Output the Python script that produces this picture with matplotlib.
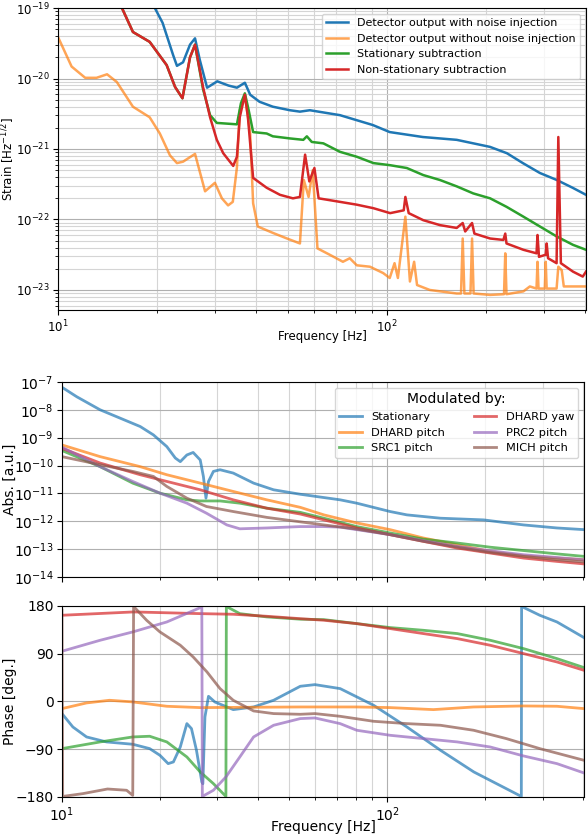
import numpy as np
import matplotlib
matplotlib.use("Agg")
import matplotlib.pyplot as plt
from matplotlib.ticker import LogLocator, NullFormatter, FixedLocator

# ---------------- Top panel: strain spectra (values as log10 of strain) ----------------
blue_f = [18.5, 19.7, 20.8, 22.4, 23.0, 24.0, 25.2, 26.1, 27.0, 28.4, 30.5, 33.0, 35.0, 37.0, 38.4,
          41.0, 45.0, 50.7, 54.4, 58.3, 72.0, 90.6, 102, 128.6, 163, 205.8, 231.7, 259, 291.7,
          328.6, 367, 403]
blue_log = [-18.85, -19.0, -19.21, -19.67, -19.82, -19.77, -19.52, -19.43, -19.74, -20.13, -20.04,
            -20.10, -20.13, -20.06, -20.23, -20.33, -20.40, -20.45, -20.47, -20.45, -20.52, -20.66,
            -20.76, -20.83, -20.87, -20.97, -21.06, -21.20, -21.34, -21.44, -21.55, -21.65]

orange_f = [10, 11.0, 12.1, 13.1, 14.1, 15.1, 16.9, 19.0, 20.4, 21.9, 23.0, 24.0, 26.1, 28.0, 30.0,
            31.5, 32.9, 34.0, 35.0, 35.7, 37.0, 38.4, 39.2, 40.5, 45, 49.7, 54.4, 55.9, 57.8, 59.5,
            61.5, 67, 73.5, 77.1, 81, 88.8, 97.4, 102, 105.5, 108, 113.8, 117.5, 121, 123.5, 135,
            163, 168, 170, 172, 179.5, 181.5, 183.5, 206, 227, 229, 231, 260, 272, 285, 287, 289,
            302, 304, 306, 328, 332, 340, 345, 403]
orange_log = [-19.41, -19.83, -19.99, -19.99, -19.94, -20.05, -20.40, -20.55, -20.78, -21.09, -21.20,
              -21.18, -21.07, -21.60, -21.48, -21.70, -21.80, -21.75, -21.26, -20.45, -20.23, -20.78,
              -21.77, -22.10, -22.19, -22.27, -22.34, -21.44, -21.68, -21.30, -22.41, -22.50, -22.60,
              -22.55, -22.65, -22.67, -22.76, -22.83, -22.62, -22.83, -21.96, -22.88, -22.60, -22.93,
              -23.00, -23.05, -23.05, -22.27, -23.05, -23.05, -22.27, -23.05, -23.07, -23.06, -22.48,
              -23.06, -23.02, -22.95, -22.98, -22.60, -22.98, -22.98, -22.60, -22.98, -22.98, -22.67,
              -22.72, -22.95, -22.95]

green_f = [15.0, 15.65, 16.9, 19.0, 21.4, 22.7, 23.9, 25.2, 26.1, 27.6, 29.0, 30.4, 35.0, 36.0, 37.0,
           38.0, 39.2, 43.1, 45, 50.7, 55.7, 57.1, 59.1, 64.1, 72, 81, 91, 102.3, 115, 129, 145,
           163, 183, 206, 231, 260, 292, 328, 368, 403]
green_log = [-18.85, -19.0, -19.34, -19.48, -19.81, -20.12, -20.28, -19.70, -19.52, -20.15, -20.52,
             -20.63, -20.65, -20.35, -20.21, -20.45, -20.76, -20.78, -20.82, -20.85, -20.87, -20.82,
             -20.90, -20.92, -21.04, -21.11, -21.20, -21.23, -21.27, -21.37, -21.44, -21.53, -21.63,
             -21.70, -21.82, -21.96, -22.10, -22.24, -22.36, -22.43]

red_f = [15.0, 15.65, 16.9, 19.0, 21.4, 22.7, 23.9, 25.2, 26.1, 27.6, 29.0, 30.4, 31.8, 34.1, 35.0,
         35.7, 37.0, 37.8, 39.2, 43.1, 47.3, 51.8, 54.4, 56.4, 58.1, 60.2, 62.0, 72, 81, 91, 102.3,
         112.5, 113.8, 116.5, 129, 145, 163, 170, 173, 181.5, 184.5, 206, 226, 229, 231, 260, 285,
         287, 290, 304, 306, 309, 328, 332, 338, 368, 394, 403]
red_log = [-18.85, -19.0, -19.34, -19.48, -19.81, -20.12, -20.28, -19.70, -19.52, -20.12, -20.55,
           -20.87, -21.06, -21.24, -21.11, -20.55, -20.23, -20.55, -21.41, -21.55, -21.65, -21.70,
           -21.68, -21.08, -21.46, -21.27, -21.70, -21.75, -21.79, -21.84, -21.91, -21.87, -21.68,
           -21.91, -22.01, -22.08, -22.12, -22.05, -22.17, -22.05, -22.20, -22.27, -22.29, -22.20,
           -22.34, -22.43, -22.48, -22.22, -22.53, -22.50, -22.34, -22.55, -22.62, -20.83, -22.62,
           -22.74, -22.81, -22.74]

top_labels = ["Detector output with noise injection", "Detector output without noise injection",
              "Stationary subtraction", "Non-stationary subtraction"]

# ---------------- Middle panel: transfer function magnitude (log10) ----------------
st_f = [10, 11.1, 13.1, 15.1, 17.4, 19.1, 21.0, 22.3, 23.1, 24.2, 25.3, 26.6, 27.2, 27.7, 28.2, 29.2,
        30.6, 33.6, 38.8, 44.7, 54.0, 71.6, 80.5, 101.9, 114.8, 145.6, 197.5, 261.8, 332, 402.5]
st_log = [-7.19, -7.53, -8.00, -8.30, -8.60, -8.90, -9.32, -9.73, -9.86, -9.62, -9.53, -9.80, -10.39,
          -11.17, -10.57, -10.21, -10.15, -10.27, -10.63, -10.87, -11.03, -11.23, -11.35, -11.65,
          -11.77, -11.89, -11.95, -12.13, -12.24, -12.30]
dh_f = [10, 13.1, 17.4, 21.0, 26.6, 33.6, 42.6, 54, 63.8, 80.5, 101.9, 129, 163.6, 207, 262, 332, 402]
dhp_log = [-9.26, -9.68, -10.04, -10.33, -10.63, -10.93, -11.23, -11.50, -11.77, -12.06, -12.30,
           -12.60, -12.84, -13.08, -13.24, -13.32, -13.38]
dhy_log = [-9.38, -9.91, -10.33, -10.57, -10.87, -11.23, -11.53, -11.74, -11.95, -12.24, -12.48,
           -12.72, -12.96, -13.14, -13.32, -13.44, -13.53]
src_f = [10, 13.1, 16.5, 20.0, 24.2, 26.6, 30.6, 35.2, 42.6, 54, 63.8, 80.5, 102, 129, 164, 207, 262,
         332, 402]
src_log = [-9.46, -10.04, -10.63, -10.99, -11.23, -11.27, -11.27, -11.35, -11.53, -11.68, -11.89,
           -12.19, -12.42, -12.64, -12.78, -12.93, -13.05, -13.17, -13.26]
prc_f = [10, 13.1, 16.5, 20, 24.2, 27.8, 32.1, 35.2, 42.6, 54, 63.8, 71.6, 80.5, 102, 129, 164, 207,
         262, 332, 402]
prc_log = [-9.34, -10.04, -10.57, -10.99, -11.35, -11.71, -12.13, -12.27, -12.24, -12.19, -12.19,
           -12.21, -12.30, -12.48, -12.70, -12.90, -13.06, -13.20, -13.30, -13.38]
mich_f = [10, 13.1, 16.5, 19.1, 21.0, 24.2, 27.8, 33.6, 42.6, 54, 63.8, 80.5, 102, 129, 164, 207, 262,
          332, 402]
mich_log = [-9.68, -9.97, -10.21, -10.39, -10.75, -11.17, -11.47, -11.65, -11.86, -12.02, -12.13,
            -12.28, -12.48, -12.72, -12.93, -13.12, -13.26, -13.38, -13.46]

# ---------------- Bottom panel: phase [deg] ----------------
st_pf = [10, 10.8, 11.9, 13.7, 16.5, 18.6, 20.0, 21.2, 22.0, 23.1, 24.2, 25.0, 25.9, 26.9, 27.1, 27.5,
         28.2, 29.5, 33.6, 38.8, 44.7, 54, 59.9, 71.6, 90.7, 114.8, 145.6, 184.4, 258, 258.5, 294,
         332, 402]
st_ph = [-22.9, -48.1, -66.9, -76.3, -80.7, -88.9, -101.5, -117.2, -114, -85.8, -41.8, -51.2, -92,
         -151.7, -155, -29.2, 9.7, -1, -15.4, -10.4, 2.2, 28.6, 31.7, 24.2, -7.2, -48.1, -92.0,
         -132.9, -179, 179, 162.4, 149.8, 120.3]
dhp_pf = [10, 11.9, 14.0, 16.5, 21, 26.6, 54, 80.5, 102, 138.5, 184, 262, 332, 402]
dhp_ph = [-13.5, -2.8, 2.2, -0.9, -9.1, -11.6, -10.4, -10.4, -11.6, -15.4, -10.4, -8.5, -9.1, -13.5]
src_pf = [10, 13.1, 16.5, 18.6, 21.0, 24.2, 26.6, 29.2, 31.9, 32.0, 35.2, 42.6, 54, 63.8, 80.5, 102,
          129, 164, 207, 262, 332, 402]
src_ph = [-88.9, -76.3, -66.9, -65.6, -76.3, -104.6, -132.9, -154.9, -179, 179, 165.5, 159.3, 155,
          154.2, 146.7, 139.2, 134.1, 127.9, 115.3, 99.6, 80.7, 63.8]
dhy_pf = [10, 16.6, 26.6, 33.6, 42.6, 54, 63.8, 80.5, 102, 129, 164, 207, 262, 332, 402]
dhy_ph = [162.4, 168.7, 165.5, 164.3, 160.5, 156, 153, 146.7, 137.3, 127.9, 118.4, 105.9, 90.2, 74.4,
          58.7]
prc_pf = [10, 13.1, 16.5, 21, 26.9, 27.0, 29.2, 31.9, 35.2, 38.8, 44.7, 54, 59.9, 71.6, 80.5, 102, 129,
          164, 207, 262, 332, 402]
prc_ph = [94.6, 115.3, 131, 149.8, 178, -179, -167.4, -142.3, -104.6, -66.9, -44.9, -32.3, -31.1,
          -41.8, -54.3, -63.8, -70.0, -76.3, -85.8, -102.7, -117.2, -134.8]
mich_pf = [10, 10.05, 11.6, 13.8, 15.8, 16.5, 16.6, 18.2, 20, 23.1, 25.3, 27.9, 30.6, 33.6, 38.8, 44.7,
           54, 59.9, 71.6, 90.7, 114.8, 145.6, 184, 232, 294, 402]
mich_ph = [172, -179, -173.7, -165, -167.4, -177, 179, 153, 131, 105.9, 83.9, 55.6, 24.2, 2.2, -17.9,
           -22.9, -24.2, -22.9, -28, -37.4, -41.8, -44.9, -54.3, -70, -88.9, -110.9]

mod_labels = ["Stationary", "DHARD pitch", "SRC1 pitch", "DHARD yaw", "PRC2 pitch", "MICH pitch"]

# ---------------- Figure ----------------
fig = plt.figure(figsize=(5.88, 8.36), dpi=100)
ax1 = fig.add_axes([0.0986, 0.6292, 0.898, 0.3612])
ax2 = fig.add_axes([0.1054, 0.3098, 0.8878, 0.2333])
ax3 = fig.add_axes([0.1054, 0.0467, 0.8878, 0.2285], sharex=ax2)

def p(v):
    return 10.0 ** np.asarray(v)

fs1 = 8.5
ax1.plot(blue_f, p(blue_log), color="#1f77b4", lw=1.8, label=top_labels[0])
ax1.plot(orange_f, p(orange_log), color="#ff7f0e", alpha=0.7, lw=1.8, label=top_labels[1])
ax1.plot(green_f, p(green_log), color="#2ca02c", lw=1.8, label=top_labels[2])
ax1.plot(red_f, p(red_log), color="#d62728", lw=1.8, label=top_labels[3])
ax1.set_xscale("log")
ax1.set_yscale("log")
ax1.set_xlim(10, 403)
ax1.set_ylim(5.2e-24, 1e-19)
ax1.yaxis.set_major_locator(LogLocator(base=10, numticks=20))
ax1.yaxis.set_minor_locator(LogLocator(base=10, subs=np.arange(2, 10), numticks=40))
ax1.yaxis.set_minor_formatter(NullFormatter())
ax1.grid(True, which="major", color="#b0b0b0", lw=0.8)
ax1.grid(True, which="minor", color="#d5d5d5", lw=0.8)
ax1.tick_params(labelsize=fs1, pad=2.5)
ax1.set_xlabel("Frequency [Hz]", fontsize=fs1, va="center")
ax1.xaxis.set_label_coords(0.5, -0.089)
ax1.set_ylabel("Strain [Hz$^{-1/2}$]", fontsize=fs1, va="center")
ax1.yaxis.set_label_coords(-0.095, 0.5)
ax1.legend(loc="upper right", fontsize=8)

alpha = 0.7
lw2 = 2.0
cols = ["#1f77b4", "#ff7f0e", "#2ca02c", "#d62728", "#9467bd", "#8c564b"]
ax2.plot(st_f, p(st_log), color=cols[0], alpha=alpha, lw=lw2, label=mod_labels[0])
ax2.plot(dh_f, p(dhp_log), color=cols[1], alpha=alpha, lw=lw2, label=mod_labels[1])
ax2.plot(src_f, p(src_log), color=cols[2], alpha=alpha, lw=lw2, label=mod_labels[2])
ax2.plot(dh_f, p(dhy_log), color=cols[3], alpha=alpha, lw=lw2, label=mod_labels[3])
ax2.plot(prc_f, p(prc_log), color=cols[4], alpha=alpha, lw=lw2, label=mod_labels[4])
ax2.plot(mich_f, p(mich_log), color=cols[5], alpha=alpha, lw=lw2, label=mod_labels[5])
ax2.set_xscale("log")
ax2.set_yscale("log")
ax2.set_xlim(10, 402)
ax2.set_ylim(1e-14, 1e-7)
ax2.yaxis.set_major_locator(LogLocator(base=10, numticks=20))
ax2.yaxis.set_minor_locator(FixedLocator([]))
ax2.grid(True, which="major", color="#b0b0b0", lw=0.8)
ax2.grid(True, which="minor", axis="x", color="#d5d5d5", lw=0.8)
ax2.tick_params(labelsize=10, labelbottom=False, pad=2.5)
ax2.set_ylabel("Abs. [a.u.]", fontsize=10, va="center")
ax2.yaxis.set_label_coords(-0.1, 0.5)
ax2.legend(loc="upper right", ncol=2, fontsize=8.2, title="Modulated by:", title_fontsize=10,
           columnspacing=2.5)

ax3.plot(st_pf, st_ph, color=cols[0], alpha=alpha, lw=lw2)
ax3.plot(dhp_pf, dhp_ph, color=cols[1], alpha=alpha, lw=lw2)
ax3.plot(src_pf, src_ph, color=cols[2], alpha=alpha, lw=lw2)
ax3.plot(dhy_pf, dhy_ph, color=cols[3], alpha=alpha, lw=lw2)
ax3.plot(prc_pf, prc_ph, color=cols[4], alpha=alpha, lw=lw2)
ax3.plot(mich_pf, mich_ph, color=cols[5], alpha=alpha, lw=lw2)
ax3.set_ylim(-180, 180)
ax3.set_yticks([-180, -90, 0, 90, 180])
ax3.grid(True, which="major", color="#b0b0b0", lw=0.8)
ax3.grid(True, which="minor", axis="x", color="#d5d5d5", lw=0.8)
ax3.tick_params(labelsize=10, pad=2.5)
ax3.set_xlabel("Frequency [Hz]", fontsize=10, va="center")
ax3.xaxis.set_label_coords(0.5, -0.155)
ax3.set_ylabel("Phase [deg.]", fontsize=10, va="center")
ax3.yaxis.set_label_coords(-0.1, 0.5)

fig.savefig("out.png", dpi=100)
